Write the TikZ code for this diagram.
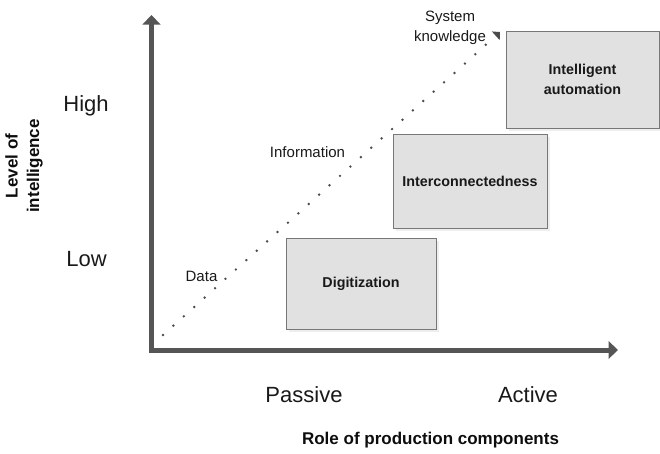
\documentclass[tikz,border=0pt]{standalone}
\usepackage{fontspec}
\setmainfont{Liberation Sans}
\usetikzlibrary{arrows.meta}
\definecolor{axisgray}{HTML}{555555}
\definecolor{boxfill}{HTML}{E1E1E1}
\definecolor{boxline}{HTML}{777777}
\definecolor{shadowgray}{HTML}{EEEEEE}
\definecolor{dotgray}{HTML}{4A4A4A}
\begin{document}
\begin{tikzpicture}[x=1pt,y=-1pt,
  axis/.style={draw=axisgray,line width=5pt,-{Triangle[length=9.5pt,width=17.5pt]}},
  stage/.style={draw=boxline,fill=boxfill,line width=0.9pt,align=center,inner sep=0pt,
    font=\fontsize{14.3}{20}\selectfont\bfseries,text=black!90},
  shade/.style={fill=shadowgray,draw=none},
  tick/.style={font=\fontsize{22}{26}\selectfont,text=black!90},
  small/.style={font=\fontsize{15}{20}\selectfont,text=black!90,align=center},
  title/.style={font=\fontsize{17}{21.5}\selectfont\bfseries,align=center,text=black!95}]
  \useasboundingbox (0,0) rectangle (660,453);

  % axes
  \coordinate (origin) at (151.5,350);
  \coordinate (ytip) at (151.5,15);
  \coordinate (xtip) at (618,350);
  \draw[axis] ([yshift=2.5pt]origin) -- (ytip);
  \draw[axis] ([xshift=-2.5pt]origin) -- (xtip);

  % stage boxes with soft shadow
  \fill[shade] (289,241) rectangle (439,332);
  \node[stage,minimum width=150pt,minimum height=91pt] (digi) at (361,283.5) {Digitization};
  \fill[shade] (396,137) rectangle (550,231);
  \node[stage,minimum width=154pt,minimum height=94pt] (inter) at (470,181) {Interconnectedness};
  \fill[shade] (509,34) rectangle (660,131);
  \node[stage,minimum width=153pt,minimum height=97pt] (auto) at (582.5,79.5) {Intelligent\\automation};

  % dotted growth path
  \coordinate (pstart) at (163,335);
  \coordinate (pend) at (500,32);
  \draw[dotgray,line width=2.7pt,line cap=round,dash pattern=on 0pt off 14pt,
    -{Triangle[length=5.7pt,width=11.4pt,line cap=butt]}] (pstart) -- (pend);

  % path labels
  \node[small] (data) at (201.5,276) {Data};
  \node[small] (info) at (307.5,152) {Information};
  \node[small] (sys) at (450,28) {System\\knowledge};

  % axis values
  \node[tick] (high) at (86,106) {High};
  \node[tick] (low) at (86.5,259) {Low};
  \node[tick] (passive) at (304,395) {Passive};
  \node[tick] (active) at (528,395) {Active};

  % axis titles
  \node[title,rotate=90] (ytitle) at (24,166) {Level of\\intelligence};
  \node[title] (xtitle) at (430.5,440) {Role of production components};
\end{tikzpicture}
\end{document}
